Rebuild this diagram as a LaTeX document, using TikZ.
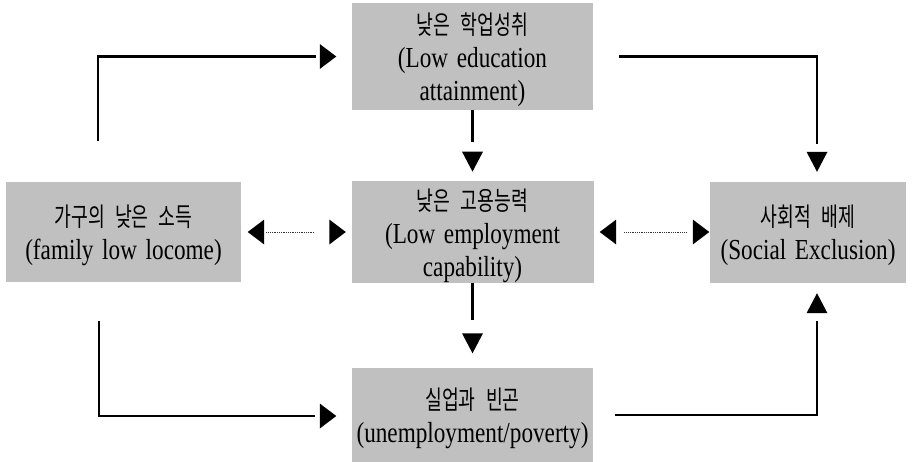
\documentclass[tikz,border=0pt]{standalone}
\usepackage{fontspec}
\setmainfont{Liberation Serif}[FakeStretch=0.8, WordSpace=1.5]
\newfontfamily\kor{Noto Sans CJK KR}[Scale=0.9, FakeStretch=0.7, WordSpace=2.5]
\usetikzlibrary{arrows.meta,positioning,calc,shapes.geometric}
\definecolor{boxgray}{RGB}{192,192,192}
\newcommand{\krline}[1]{{\kor\rule{0pt}{29pt}#1}}
\tikzset{
  factor/.style={rectangle, fill=boxgray, align=center, inner sep=0pt,
    font=\fontsize{29}{33}\selectfont},
  head/.style={isosceles triangle, isosceles triangle stretches, fill=black,
    inner sep=0pt, anchor=apex},
  headR/.style={head, minimum width=25pt, minimum height=16.5pt, shape border rotate=0},
  headL/.style={headR, shape border rotate=180},
  headD/.style={head, minimum width=21pt, minimum height=20pt, shape border rotate=270},
  headU/.style={headD, shape border rotate=90},
  link/.style={line width=2.6pt, draw=black},
  dlink/.style={line width=0.9pt, draw=black!80, dash pattern=on 0.9pt off 0.9pt},
}

\begin{document}
\begin{tikzpicture}[x=1pt, y=-1pt]
  \useasboundingbox (0,0) rectangle (920,461);
  % boxes
  \node[factor, minimum width=241pt, minimum height=107pt] (edu) at (472.5,56.5)
    {\krline{낮은 학업성취}\\(Low education\\attainment)};
  \node[factor, minimum width=242pt, minimum height=101pt] (emp) at (472.5,232)
    {\krline{낮은 고용능력}\\(Low employment\\capability)};
  \node[factor, minimum width=235pt, minimum height=100pt] (inc) at (123.5,232)
    {\krline{가구의 낮은 소득}\\(family low locome)};
  \node[factor, minimum width=196pt, minimum height=101pt] (exc) at (808,232)
    {\krline{사회적 배제}\\(Social Exclusion)};
  \node[factor, minimum width=241pt, minimum height=94pt] (unemp) at (472.5,415)
    {\krline{실업과 빈곤}\\(unemployment/poverty)};
  % arrow heads, set apart from the boxes
  \node[headR] (hEdu) at ($(edu.west)+(-15,0)$) {};
  \node[headD] (hExcN) at ($(exc.north)+(9,-9)$) {};
  \node[headD] (hEmp) at ($(emp.north)+(0,-9)$) {};
  \node[headD] (hUnemp) at ($(unemp.north)+(0,-14)$) {};
  \node[headR] (hUnempW) at ($(unemp.west)+(-15,1)$) {};
  \node[headU] (hExcS) at ($(exc.south)+(9,10)$) {};
  \node[headL] (hInc) at ($(inc.east)+(6,0)$) {};
  \node[headR] (hEmpW) at ($(emp.west)+(-5,0)$) {};
  \node[headL] (hEmpE) at ($(emp.east)+(5.5,0)$) {};
  \node[headR] (hExcW) at (exc.west) {};
  % solid links
  \draw[link, shorten >=4pt] ($(inc.north)+(-25.5,-41)$) |- (hEdu);
  \draw[link, shorten <=26pt, shorten >=8pt] (edu.east) -| (hExcN);
  \draw[link, shorten >=9pt] (edu.south) -- (hEmp);
  \draw[link, shorten >=13pt] (emp.south) -- (hUnemp);
  \draw[link, shorten >=5pt] ($(inc.south)+(-24.5,39)$) |- (hUnempW);
  \draw[link, shorten <=22pt, shorten >=8pt] (unemp.east) -| (hExcS);
  % dotted two-way links
  \draw[dlink, shorten <=2pt, shorten >=15pt] (hInc) -- (hEmpW);
  \draw[dlink, shorten <=8pt, shorten >=6pt] (hEmpE) -- (hExcW);
\end{tikzpicture}
\end{document}
